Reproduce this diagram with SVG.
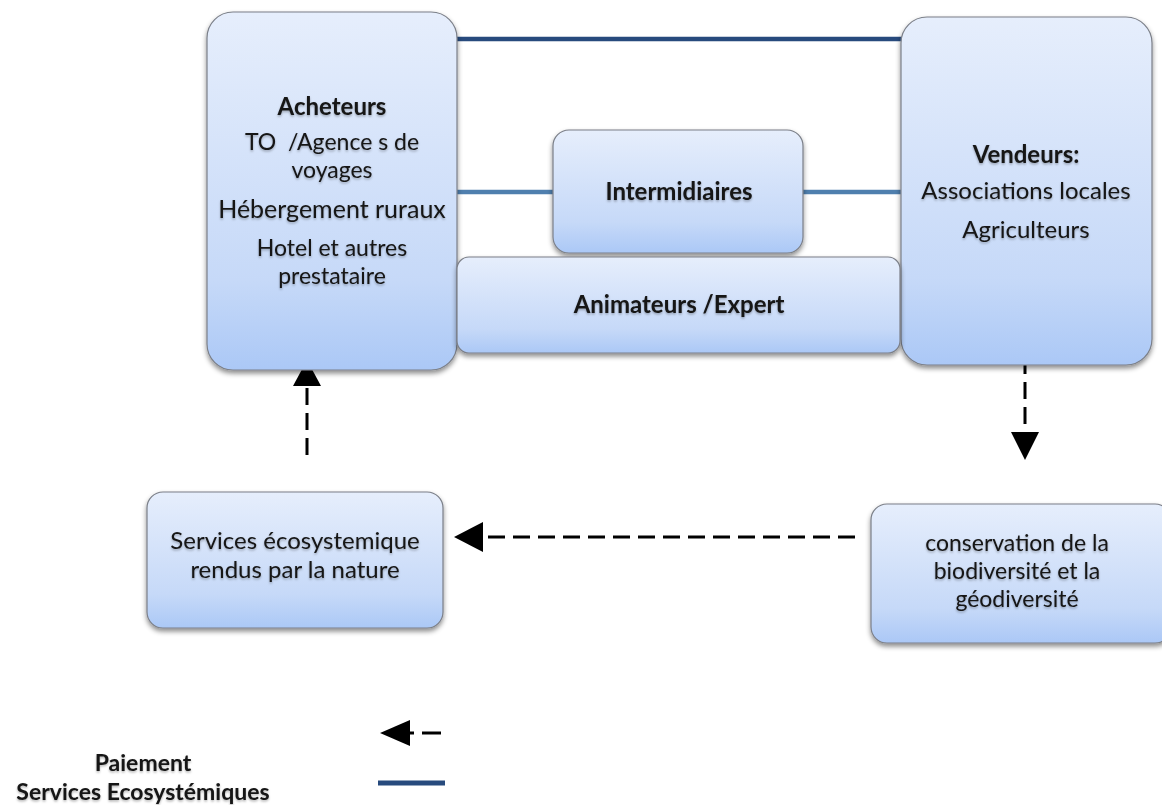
<svg xmlns="http://www.w3.org/2000/svg" width="1162" height="805" viewBox="0 0 1162 805">
<defs>
<linearGradient id="g" x1="0" y1="0" x2="0" y2="1">
<stop offset="0" stop-color="#e6eefc"/>
<stop offset="0.75" stop-color="#c6d9f8"/>
<stop offset="1" stop-color="#abc8f6"/>
</linearGradient>
<filter id="sh" x="-10%" y="-10%" width="120%" height="130%">
<feDropShadow dx="0" dy="3" stdDeviation="2.5" flood-color="#000" flood-opacity="0.45"/>
</filter>
<filter id="ts" x="-5%" y="-20%" width="110%" height="150%">
<feDropShadow dx="0" dy="1.5" stdDeviation="1.2" flood-color="#000" flood-opacity="0.3"/>
</filter>
</defs>
<style>
.box{fill:url(#g);stroke:#7b7f88;stroke-width:1.2;filter:url(#sh)}
text{font-family:Lato,"Open Sans","Liberation Sans",sans-serif;font-size:24px;fill:#141414;text-anchor:middle;filter:url(#ts)}
.b{font-weight:bold}
.s{font-size:23px}
.dash{stroke:#000;stroke-width:3;stroke-dasharray:17 8;fill:none}
.head{fill:#000}
</style>
<rect width="1162" height="805" fill="#fff"/>
<g id="connectors">
<line x1="455" y1="39" x2="903" y2="39" stroke="#274a7d" stroke-width="4.5"/>
<line x1="455" y1="192" x2="555" y2="192" stroke="#4f7fae" stroke-width="4.5"/>
<line x1="802" y1="192" x2="903" y2="192" stroke="#4f7fae" stroke-width="4.5"/>
<line class="dash" x1="1025" y1="357" x2="1025" y2="432"/>
<polygon class="head" points="1011,432 1039,432 1025,460"/>
<line class="dash" x1="855" y1="537" x2="482" y2="537"/>
<polygon class="head" points="483,522 483,552 454,537"/>
<line class="dash" x1="307" y1="455" x2="307" y2="385"/>
<polygon class="head" points="293,386 321,386 307,360"/>
</g>
<g id="acheteurs">
<rect class="box" x="207" y="12" width="250" height="358" rx="26"/>
<text class="b" x="332" y="115">Acheteurs</text>
<text class="s" x="332" y="150" xml:space="preserve">TO  /Agence s de</text>
<text class="s" x="332" y="178">voyages</text>
<text x="332" y="218" style="font-size:25px">Hébergement ruraux</text>
<text class="s" x="332" y="256">Hotel et autres</text>
<text class="s" x="332" y="284">prestataire</text>
</g>
<g id="vendeurs">
<rect class="box" x="901" y="17" width="251" height="348" rx="26"/>
<text class="b" x="1026" y="163">Vendeurs:</text>
<text x="1026" y="199">Associations locales</text>
<text x="1026" y="238">Agriculteurs</text>
</g>
<g id="intermidiaires">
<rect class="box" x="553" y="130" width="250" height="123" rx="16"/>
<text class="b" x="679" y="200">Intermidiaires</text>
</g>
<g id="animateurs">
<rect class="box" x="457" y="257" width="443" height="96" rx="12"/>
<text class="b" x="679" y="313">Animateurs /Expert</text>
</g>
<g id="services">
<rect class="box" x="147" y="492" width="296" height="136" rx="16"/>
<text x="295" y="549">Services écosystemique</text>
<text x="295" y="578">rendus par la nature</text>
</g>
<g id="conservation">
<rect class="box" x="871" y="504" width="300" height="139" rx="16"/>
<text class="s" x="1017" y="551">conservation de la</text>
<text class="s" x="1017" y="579">biodiversité et la</text>
<text class="s" x="1017" y="607">géodiversité</text>
</g>
<g id="legend">
<text class="b s" x="143" y="771">Paiement</text>
<text class="b s" x="143" y="800">Services Ecosystémiques</text>
<polygon class="head" points="410,720 410,746 380,733"/>
<line x1="409" y1="733" x2="414" y2="733" stroke="#000" stroke-width="3"/>
<line x1="422" y1="733" x2="441" y2="733" stroke="#000" stroke-width="3"/>
<line x1="378" y1="783" x2="445" y2="783" stroke="#274a7d" stroke-width="5"/>
</g>
</svg>
